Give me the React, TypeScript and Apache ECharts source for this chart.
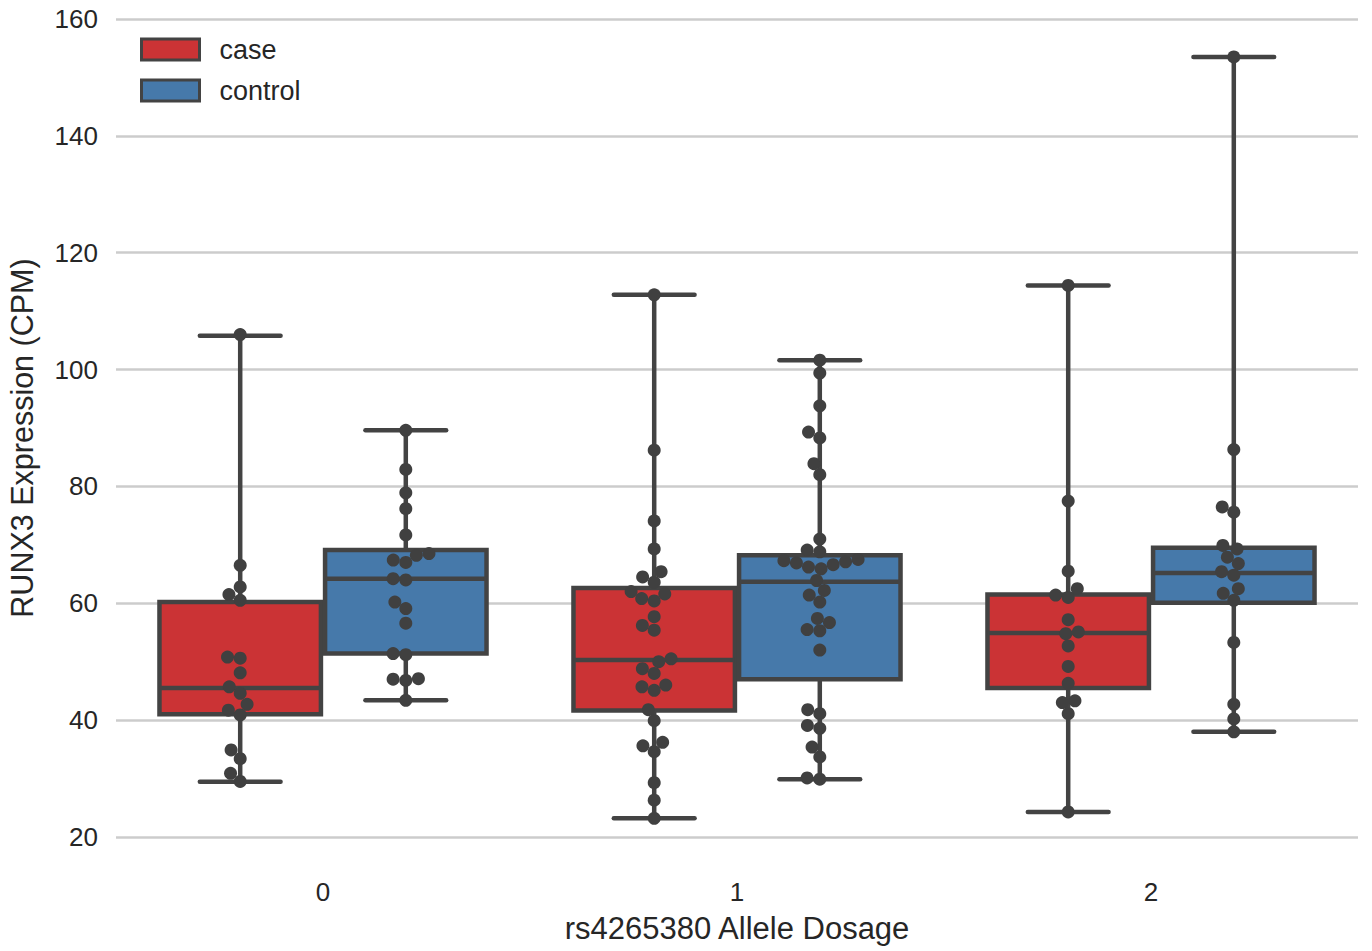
import React, { useEffect, useRef } from 'react';
import * as echarts from 'echarts';

// ---------- data ----------
const categories = ['0', '1', '2'];
const hueNames = ['case', 'control'];
const hueColors = ['#cb3335', '#4679aa'];
const xAxisTitle = 'rs4265380 Allele Dosage';
const yAxisTitle = 'RUNX3 Expression (CPM)';
const yMin = 20;
const yMax = 160;
const yStep = 20;

// box statistics per dosage: [lower whisker, Q1, median, Q3, upper whisker]
const caseStats = [
  [29.45, 41.0, 45.5, 60.2, 105.8],
  [23.2, 41.65, 50.3, 62.6, 112.8],
  [24.3, 45.5, 54.9, 61.5, 114.4],
];
const controlStats = [
  [43.4, 51.4, 64.2, 69.1, 89.6],
  [29.9, 47.0, 63.7, 68.2, 101.6],
  [38.0, 60.1, 65.2, 69.5, 153.5],
];

// individual observations (swarm points)
const casePoints0 = [106, 66.5, 62.8, 61.5, 60.5, 50.8, 50.6, 48.1, 45.7, 44.6, 42.7, 41.7, 40.9, 34.9, 33.4, 30.9, 29.5];
const controlPoints0 = [89.6, 82.9, 78.9, 76.2, 71.7, 68.5, 68.2, 67.4, 67.0, 64.2, 64.0, 60.2, 59.1, 56.6, 51.4, 51.2, 47.1, 47.0, 46.8, 43.4];
const casePoints1 = [112.8, 86.2, 74.1, 69.3, 65.4, 64.5, 63.6, 62.0, 61.6, 60.8, 60.4, 57.7, 56.2, 55.4, 50.5, 50.0, 48.8, 48.0, 46.0, 45.7, 45.1, 41.8, 39.9, 36.2, 35.6, 34.6, 29.3, 26.3, 23.2];
const controlPoints1 = [101.6, 99.4, 93.8, 89.3, 88.3, 83.9, 82.0, 71.0, 69.1, 68.8, 67.5, 67.3, 67.1, 66.9, 66.6, 66.2, 65.9, 63.9, 62.2, 61.4, 60.2, 57.4, 56.7, 55.5, 55.3, 52.0, 41.8, 41.1, 39.1, 38.6, 35.4, 33.7, 30.1, 29.9];
const casePoints2 = [114.4, 77.5, 65.5, 62.5, 61.4, 61.0, 57.2, 55.1, 54.8, 52.7, 49.2, 46.3, 43.3, 43.0, 41.1, 24.3];
const controlPoints2 = [153.5, 86.3, 76.5, 75.6, 69.9, 69.3, 67.9, 66.8, 65.4, 64.8, 62.5, 61.7, 60.5, 53.3, 42.7, 40.2, 38.0];

const casePoints = [casePoints0, casePoints1, casePoints2];
const controlPoints = [controlPoints0, controlPoints1, controlPoints2];

// ---------- styling ----------
const EDGE = '#434343';
const DOT = '#404040';
const TEXT = '#262626';
const FONT = "'Liberation Sans', Arial, sans-serif";
const HUE_OFFSET = 0.2;
const BOX_W = 0.39;
const DOT_SIZE = 13;
const SWARM_D = 12.5;

function boxData(stats: number[][], offset: number) {
  return stats.map((s, i) => [i + offset, ...s]);
}

function renderBox(color: string) {
  return (params: any, api: any) => {
    const x = api.value(0);
    const lo = api.value(1), q1 = api.value(2), med = api.value(3), q3 = api.value(4), hi = api.value(5);
    const half = api.size([BOX_W, 0])[0] / 2;
    const capHalf = half / 2;
    const pLo = api.coord([x, lo]);
    const pQ1 = api.coord([x, q1]);
    const pMed = api.coord([x, med]);
    const pQ3 = api.coord([x, q3]);
    const pHi = api.coord([x, hi]);
    const cx = pLo[0];
    const lineStyle = { stroke: EDGE, lineWidth: 4.5, lineCap: 'round' };
    return {
      type: 'group',
      children: [
        { type: 'line', shape: { x1: cx, y1: pQ1[1], x2: cx, y2: pLo[1] }, style: lineStyle },
        { type: 'line', shape: { x1: cx, y1: pQ3[1], x2: cx, y2: pHi[1] }, style: lineStyle },
        { type: 'line', shape: { x1: cx - capHalf, y1: pLo[1], x2: cx + capHalf, y2: pLo[1] }, style: lineStyle },
        { type: 'line', shape: { x1: cx - capHalf, y1: pHi[1], x2: cx + capHalf, y2: pHi[1] }, style: lineStyle },
        {
          type: 'rect',
          shape: { x: cx - half, y: pQ3[1], width: half * 2, height: pQ1[1] - pQ3[1] },
          style: { fill: color, stroke: EDGE, lineWidth: 4.5 },
        },
        { type: 'line', shape: { x1: cx - half, y1: pMed[1], x2: cx + half, y2: pMed[1] }, style: { stroke: EDGE, lineWidth: 4.5 } },
      ],
    };
  };
}

// beeswarm layout in pixel space (points placed from lowest value upward)
function swarm(pix: number[][], cx: number, d: number): number[][] {
  const order = pix.map((p, i) => i).sort((a, b) => pix[b][1] - pix[a][1]);
  const placed: number[][] = [];
  const out: number[][] = new Array(pix.length);
  for (const idx of order) {
    const py = pix[idx][1];
    const neighbors = placed.filter((q) => Math.abs(q[1] - py) < d);
    const cands: number[] = [cx];
    for (const n of neighbors) {
      const dy = py - n[1];
      const dx = Math.sqrt(Math.max(d * d - dy * dy, 0)) * 1.02;
      cands.push(n[0] - dx, n[0] + dx);
    }
    const sorted = cands.map((c, i) => ({ c, i })).sort((a, b) => {
      const da = Math.abs(a.c - cx), db = Math.abs(b.c - cx);
      if (Math.abs(da - db) > 1e-6) return da - db;
      return a.i - b.i;
    });
    let chosen = cx;
    for (const { c } of sorted) {
      const ok = neighbors.every((n) => {
        const dx = n[0] - c, dy = n[1] - py;
        return dx * dx + dy * dy >= d * d - 0.01;
      });
      if (ok) { chosen = c; break; }
    }
    placed.push([chosen, py]);
    out[idx] = [chosen, py];
  }
  return out;
}

export default function App() {
  const ref = useRef<HTMLDivElement>(null);

  useEffect(() => {
    if (!ref.current) return;
    const chart = echarts.init(ref.current, null, { renderer: 'svg' });

    const option: any = {
      animation: false,
      backgroundColor: '#ffffff',
      textStyle: { fontFamily: FONT },
      grid: { left: 116, right: 14, top: 19, bottom: 951 - 837, containLabel: false },
      legend: {
        orient: 'vertical',
        left: 135,
        top: 31,
        icon: 'rect',
        itemWidth: 58,
        itemHeight: 21,
        itemGap: 14,
        selectedMode: false,
        textStyle: { fontFamily: FONT, fontSize: 27, color: TEXT, lineHeight: 21, padding: [0, 0, 0, 15] },
        data: hueNames.map((n, i) => ({
          name: n,
          itemStyle: { color: hueColors[i], borderColor: EDGE, borderWidth: 3 },
        })),
      },
      xAxis: [
        {
          type: 'category',
          data: categories,
          boundaryGap: true,
          axisLine: { show: false },
          axisTick: { show: false },
          splitLine: { show: false },
          axisLabel: { fontFamily: FONT, fontSize: 26, color: TEXT, margin: 42 },
          name: xAxisTitle,
          nameLocation: 'middle',
          nameGap: 76,
          nameTextStyle: { fontFamily: FONT, fontSize: 31, color: TEXT },
        },
        {
          type: 'value',
          min: -0.5,
          max: 2.5,
          show: false,
          splitLine: { show: false },
        },
      ],
      yAxis: {
        type: 'value',
        min: yMin,
        max: yMax,
        interval: yStep,
        axisLine: { show: false },
        axisTick: { show: false },
        axisLabel: { fontFamily: FONT, fontSize: 26, color: TEXT, margin: 18 },
        splitLine: { lineStyle: { color: '#cccccc', width: 2.5 } },
      },
      graphic: [
        {
          type: 'text',
          x: 22,
          y: 438,
          rotation: Math.PI / 2,
          style: {
            text: yAxisTitle,
            font: `30.5px ${FONT}`,
            fill: TEXT,
            textAlign: 'center',
            textVerticalAlign: 'middle',
          },
        },
      ],
      series: [
        {
          id: 'case',
          name: hueNames[0],
          type: 'custom',
          xAxisIndex: 1,
          yAxisIndex: 0,
          itemStyle: { color: hueColors[0] },
          encode: { x: 0, y: [1, 2, 3, 4, 5] },
          renderItem: renderBox(hueColors[0]),
          data: boxData(caseStats, -HUE_OFFSET),
          z: 2,
        },
        {
          id: 'control',
          name: hueNames[1],
          type: 'custom',
          xAxisIndex: 1,
          yAxisIndex: 0,
          itemStyle: { color: hueColors[1] },
          encode: { x: 0, y: [1, 2, 3, 4, 5] },
          renderItem: renderBox(hueColors[1]),
          data: boxData(controlStats, HUE_OFFSET),
          z: 2,
        },
        {
          id: 'points',
          name: 'points',
          type: 'scatter',
          xAxisIndex: 1,
          yAxisIndex: 0,
          symbol: 'circle',
          symbolSize: DOT_SIZE,
          itemStyle: { color: DOT, opacity: 1 },
          data: [],
          z: 5,
        },
      ],
    };
    chart.setOption(option);

    const finder = { seriesIndex: 2 };
    const pts: number[][] = [];
    const groups: [number[], number][] = [];
    categories.forEach((_, i) => {
      groups.push([casePoints[i], i - HUE_OFFSET]);
      groups.push([controlPoints[i], i + HUE_OFFSET]);
    });
    for (const [vals, xc] of groups) {
      const pix = vals.map((v) => chart.convertToPixel(finder as any, [xc, v]) as number[]);
      const cxPix = (chart.convertToPixel(finder as any, [xc, yMin]) as number[])[0];
      const placed = swarm(pix, cxPix, SWARM_D);
      placed.forEach((p, k) => {
        const dataPt = chart.convertFromPixel(finder as any, p) as number[];
        pts.push([dataPt[0], vals[k]]);
      });
    }
    chart.setOption({ series: [{ id: 'points', data: pts }] });

    return () => chart.dispose();
  }, []);

  return (
    <div
      ref={ref}
      style={{ position: 'absolute', left: 0, top: 0, width: 1372, height: 951, background: '#fff' }}
    />
  );
}
